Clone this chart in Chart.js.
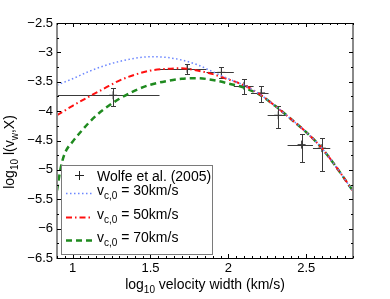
<!DOCTYPE html>
<html><head><meta charset="utf-8">
<script src="https://cdn.jsdelivr.net/npm/chart.js@4"></script>
<style>html,body{margin:0;padding:0;background:#fff}canvas{display:block}</style>
</head><body>
<canvas id="c" width="390" height="299"></canvas>
<script>
// ---- tick values & labels ----
const xTicks = [1, 1.5, 2, 2.5];
const xTickLabels = ['1', '1.5', '2', '2.5'];
const yTicks = [-6.5, -6, -5.5, -5, -4.5, -4, -3.5, -3, -2.5];
const yTickLabels = ['\u22126.5', '\u22126', '\u22125.5', '\u22125', '\u22124.5', '\u22124', '\u22123.5', '\u22123', '\u22122.5'];

// ---- Wolfe et al. (2005) data with error bars ----
const wolfeX   = [1.26, 1.735, 1.955, 2.10, 2.21, 2.32, 2.47, 2.60];
const wolfeY   = [-3.73, -3.28, -3.34, -3.57, -3.69, -4.07, -4.57, -4.63];
const wolfeXLo = [0.85, 1.56, 1.86, 2.035, 2.145, 2.252, 2.38, 2.543];
const wolfeXHi = [1.558, 1.86, 2.035, 2.162, 2.258, 2.372, 2.543, 2.654];
const wolfeYLo = [-3.91, -3.37, -3.44, -3.71, -3.85, -4.28, -4.87, -5.02];
const wolfeYHi = [-3.61, -3.19, -3.25, -3.46, -3.57, -3.92, -4.39, -4.45];

// ---- model curves ----
const vc30X = [0.9,1.0,1.1,1.2,1.3,1.4,1.5,1.6,1.7,1.8,1.9,2.0,2.1,2.2,2.3,2.4,2.5,2.6,2.7,2.8];
const vc30Y = [-3.555,-3.45,-3.33,-3.23,-3.155,-3.10,-3.075,-3.085,-3.13,-3.21,-3.33,-3.45,-3.56,-3.71,-3.91,-4.13,-4.36,-4.63,-4.98,-5.36];
const vc50X = [0.9,1.0,1.1,1.2,1.3,1.4,1.5,1.6,1.7,1.8,1.9,2.0,2.1,2.2,2.3,2.4,2.5,2.6,2.7,2.8];
const vc50Y = [-4.07,-3.91,-3.76,-3.62,-3.48,-3.38,-3.31,-3.28,-3.27,-3.31,-3.37,-3.46,-3.56,-3.71,-3.91,-4.13,-4.36,-4.63,-4.98,-5.36];
const vc70X = [0.9,0.925,0.95,1.0,1.05,1.1,1.15,1.2,1.3,1.4,1.5,1.6,1.7,1.8,1.9,2.0,2.1,2.2,2.3,2.4,2.5,2.6,2.7,2.8];
const vc70Y = [-5.35,-4.95,-4.72,-4.52,-4.36,-4.21,-4.08,-3.97,-3.79,-3.65,-3.55,-3.49,-3.45,-3.44,-3.47,-3.53,-3.60,-3.72,-3.91,-4.13,-4.36,-4.63,-4.98,-5.36];

const FONT = "'Liberation Sans', Arial, Helvetica, sans-serif";
const zip = (xs, ys) => xs.map((v, i) => ({x: v, y: ys[i]}));

const COL30 = '#6b86ff', COL50 = '#ff1010', COL70 = '#1f8a1f', COLERR = '#3a3a3a';

function drawSubText(ctx, parts, x, y, align, size) {
  const main = size + 'px ' + FONT, sub = Math.round(size * 0.7) + 'px ' + FONT;
  let w = 0;
  parts.forEach(p => { ctx.font = p[1] ? sub : main; w += ctx.measureText(p[0]).width; });
  let cx = align === 'center' ? x - w / 2 : x;
  ctx.textBaseline = 'alphabetic';
  ctx.textAlign = 'left';
  parts.forEach(p => {
    ctx.font = p[1] ? sub : main;
    ctx.fillText(p[0], cx, p[1] ? y + 4 : y);
    cx += ctx.measureText(p[0]).width;
  });
}

const deco = {
  id: 'deco',
  beforeDatasetsDraw(chart) {
    const {ctx, scales: {x, y}, chartArea: a} = chart;
    ctx.save();
    ctx.beginPath(); ctx.rect(a.left, a.top, a.right - a.left, a.bottom - a.top); ctx.clip();
    ctx.strokeStyle = COLERR; ctx.lineWidth = 1;
    for (let i = 0; i < wolfeX.length; i++) {
      const px = Math.round(x.getPixelForValue(wolfeX[i])) + 0.5;
      const py = Math.round(y.getPixelForValue(wolfeY[i])) + 0.5;
      const xl = x.getPixelForValue(wolfeXLo[i]), xh = x.getPixelForValue(wolfeXHi[i]);
      const yl = Math.round(y.getPixelForValue(wolfeYLo[i])) + 0.5, yh = Math.round(y.getPixelForValue(wolfeYHi[i])) + 0.5;
      ctx.beginPath();
      ctx.moveTo(xl, py); ctx.lineTo(xh, py);
      ctx.moveTo(px, yl); ctx.lineTo(px, yh);
      ctx.moveTo(px - 2.5, yl); ctx.lineTo(px + 2.5, yl);
      ctx.moveTo(px - 2.5, yh); ctx.lineTo(px + 2.5, yh);
      ctx.stroke();
    }
    ctx.restore();
  },
  afterDatasetsDraw(chart) {
    const {ctx, scales: {x, y}, chartArea: a} = chart;
    ctx.save();
    ctx.strokeStyle = '#000'; ctx.lineWidth = 1;
    ctx.beginPath();
    ctx.moveTo(a.left, a.top + 0.5); ctx.lineTo(a.right, a.top + 0.5);
    ctx.moveTo(a.left, a.bottom + 0.5); ctx.lineTo(a.right, a.bottom + 0.5);
    ctx.stroke();
    ctx.strokeStyle = '#8a8a8a'; ctx.lineWidth = 2;
    ctx.beginPath();
    ctx.moveTo(a.left, a.top); ctx.lineTo(a.left, a.bottom + 1);
    ctx.moveTo(a.right, a.top); ctx.lineTo(a.right, a.bottom + 1);
    ctx.stroke();
    ctx.strokeStyle = '#000'; ctx.lineWidth = 1;
    ctx.beginPath();
    for (let k = 0; k <= 38; k++) {
      const v = 0.9 + k * 0.05;
      const px = Math.round(x.getPixelForValue(v)) + 0.5;
      const major = xTicks.some(t => Math.abs(t - v) < 1e-6);
      const L = major ? 4 : 2;
      ctx.moveTo(px, a.bottom); ctx.lineTo(px, a.bottom - L);
      ctx.moveTo(px, a.top); ctx.lineTo(px, a.top + L);
    }
    for (let k = 0; k <= 16; k++) {
      const v = -6.5 + k * 0.25;
      const py = Math.round(y.getPixelForValue(v)) + 0.5;
      const major = yTicks.some(t => Math.abs(t - v) < 1e-6);
      const L = major ? 4 : 2;
      ctx.moveTo(a.left, py); ctx.lineTo(a.left + L, py);
      ctx.moveTo(a.right, py); ctx.lineTo(a.right - L, py);
    }
    ctx.stroke();
    ctx.restore();
  },
  afterDraw(chart) {
    const {ctx, chartArea: a} = chart;
    ctx.save();
    ctx.fillStyle = '#000';
    drawSubText(ctx, [['log', 0], ['10', 1], [' velocity width (km/s)', 0]], (a.left + a.right) / 2, 289, 'center', 14);
    ctx.save();
    ctx.translate(14, 152);
    ctx.rotate(-Math.PI / 2);
    drawSubText(ctx, [['log', 0], ['10', 1], [' l(v', 0], ['w', 1], [',X)', 0]], 0, 0, 'center', 14);
    ctx.restore();
    // legend
    const L = 61, T = 165, W = 151, H = 89;
    ctx.fillStyle = '#fff';
    ctx.fillRect(L, T, W, H);
    ctx.strokeStyle = '#7a7a7a'; ctx.lineWidth = 1;
    ctx.strokeRect(L + 0.5, T + 0.5, W, H);
    const lx0 = 66, lx1 = 92, tx = 97;
    ctx.strokeStyle = '#222'; ctx.lineWidth = 1;
    ctx.beginPath();
    ctx.moveTo(79.5 - 4.5, 175.5); ctx.lineTo(79.5 + 4.5, 175.5);
    ctx.moveTo(79.5, 171); ctx.lineTo(79.5, 180);
    ctx.stroke();
    ctx.fillStyle = '#000';
    drawSubText(ctx, [['Wolfe et al. (2005)', 0]], tx, 180.5, 'left', 14);
    const entries = [
      {y: 193.5, col: COL30, dash: [1.5, 2.5], w: 1.5, label: '30km/s'},
      {y: 217.5, col: COL50, dash: [6, 3, 1.5, 3], w: 2, label: '50km/s'},
      {y: 240.5, col: COL70, dash: [6, 4], w: 2.5, label: '70km/s'}
    ];
    entries.forEach(e => {
      ctx.strokeStyle = e.col; ctx.lineWidth = e.w; ctx.setLineDash(e.dash);
      ctx.beginPath(); ctx.moveTo(lx0, e.y); ctx.lineTo(lx1, e.y); ctx.stroke();
      ctx.setLineDash([]);
      ctx.fillStyle = '#000';
      drawSubText(ctx, [['v', 0], ['c,0', 1], [' = ' + e.label, 0]], tx, e.y + 1.5, 'left', 14);
    });
    ctx.restore();
  }
};

new Chart(document.getElementById('c'), {
  data: {
    datasets: [
      {type: 'line', label: 'vc30', data: zip(vc30X, vc30Y), borderColor: COL30, borderWidth: 1.5, borderDash: [1.5, 2.5], pointRadius: 0, cubicInterpolationMode: 'monotone', fill: false},
      {type: 'line', label: 'vc50', data: zip(vc50X, vc50Y), borderColor: COL50, borderWidth: 2, borderDash: [6, 3, 1.5, 3], pointRadius: 0, cubicInterpolationMode: 'monotone', fill: false},
      {type: 'line', label: 'vc70', data: zip(vc70X, vc70Y), borderColor: COL70, borderWidth: 2.5, borderDash: [6, 4], pointRadius: 0, cubicInterpolationMode: 'monotone', fill: false},
      {type: 'scatter', label: 'Wolfe et al. (2005)', data: zip(wolfeX, wolfeY), pointStyle: 'cross', pointRadius: 4, borderColor: COLERR, borderWidth: 1, backgroundColor: COLERR}
    ]
  },
  options: {
    responsive: false, animation: false, devicePixelRatio: 1,
    layout: {padding: {top: 23, right: 37, left: 0, bottom: 0}},
    plugins: {legend: {display: false}, tooltip: {enabled: false}},
    scales: {
      x: {
        type: 'linear', min: 0.9, max: 2.8,
        afterBuildTicks: s => { s.ticks = xTicks.map(v => ({value: v})); },
        afterFit: s => { s.height = 41; },
        ticks: {callback: (v, i) => xTickLabels[i], font: {family: FONT, size: 13}, color: '#000', padding: 3, maxRotation: 0, autoSkip: false},
        grid: {display: false, drawTicks: false}, border: {display: false}
      },
      y: {
        type: 'linear', min: -6.5, max: -2.5,
        afterBuildTicks: s => { s.ticks = yTicks.map(v => ({value: v})); },
        afterFit: s => { s.width = 57; },
        ticks: {callback: (v, i) => yTickLabels[i], font: {family: FONT, size: 13}, color: '#000', padding: 4, autoSkip: false},
        grid: {display: false, drawTicks: false}, border: {display: false}
      }
    }
  },
  plugins: [deco]
});
</script>
</body></html>
